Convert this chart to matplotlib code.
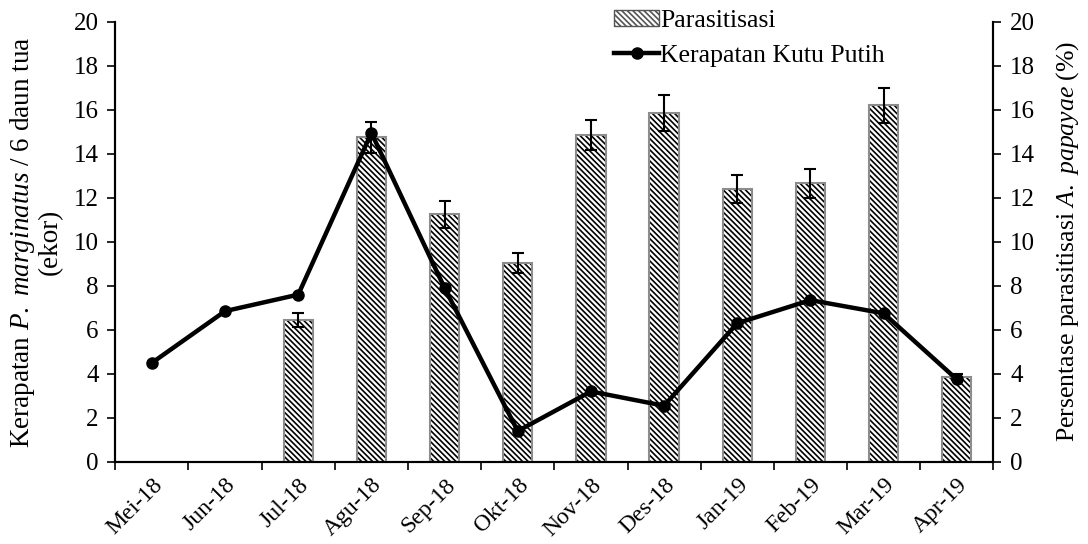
import matplotlib
matplotlib.use("Agg")
import matplotlib.pyplot as plt
from matplotlib.patches import Patch
from matplotlib.lines import Line2D
import numpy as np

plt.rcParams['font.family'] = ['Liberation Serif', 'DejaVu Serif']
plt.rcParams['mathtext.fontset'] = 'custom'
plt.rcParams['mathtext.rm'] = 'Liberation Serif'
plt.rcParams['mathtext.it'] = 'Liberation Serif:italic'
plt.rcParams['hatch.linewidth'] = 1.2

### Data
months = ["Mei-18", "Jun-18", "Jul-18", "Agu-18", "Sep-18", "Okt-18",
          "Nov-18", "Des-18", "Jan-19", "Feb-19", "Mar-19", "Apr-19"]
density = [4.5, 6.85, 7.6, 14.95, 7.9, 1.4, 3.2, 2.55, 6.3, 7.35, 6.75, 3.75]
parasit = [np.nan, np.nan, 6.45, 14.75, 11.25, 9.05, 14.85, 15.85, 12.4, 12.65, 16.2, 3.85]
parasit_err = [np.nan, np.nan, 0.3, 0.7, 0.6, 0.45, 0.7, 0.8, 0.65, 0.65, 0.8, 0.15]

### Style
tick_fs = 18
label_fs = 18.5
hatch = "\\" * 6

x = np.arange(len(months))

fig = plt.figure(figsize=(10.88, 5.44), dpi=100)
ax = fig.add_axes([0.106, 0.151, 0.807, 0.809])
ax2 = ax.twinx()

# bars on the right axis: black hatch, grey outline drawn on top
ax2.bar(x, parasit, width=0.4, color="white", edgecolor="black",
        linewidth=0, hatch=hatch, zorder=2)
ax2.bar(x, parasit, width=0.4, fill=False, edgecolor="#8c8c8c",
        linewidth=1.5, zorder=3)
ax2.errorbar(x, parasit, yerr=parasit_err, fmt="none", ecolor="black",
             elinewidth=1.5, capsize=4, capthick=1.5, zorder=4)

# density line on the left axis, kept above the bars
ax.set_zorder(ax2.get_zorder() + 1)
ax.patch.set_visible(False)
ax.plot(x, density, color="black", linewidth=3.2, marker="o",
        markersize=8, zorder=5)

for a in (ax, ax2):
    a.set_ylim(0, 20)
    a.set_yticks(np.arange(0, 21, 2))
    a.tick_params(axis="y", labelsize=tick_fs, direction="out", length=6,
                  width=1.2, pad=6)
    a.spines["top"].set_visible(False)
    for s in a.spines.values():
        s.set_linewidth(1.5)

ax.set_xlim(-0.5, len(months) - 0.5)
ax.set_xticks(np.arange(-0.5, len(months), 1.0))
ax.set_xticklabels([])
ax.set_xticks(x, minor=True)
ax.set_xticklabels(months, minor=True, rotation=45, ha="right",
                   rotation_mode="anchor", fontsize=17)
ax.tick_params(axis="x", which="major", direction="out", length=6, width=1.2)
ax.tick_params(axis="x", which="minor", length=0, pad=9)

ax.set_ylabel("Kerapatan $P.$ $marginatus$ / 6 daun tua\n(ekor)",
              fontsize=19.5, linespacing=1.05, labelpad=8)
ax2.set_ylabel("Persentase parasitisasi $A.$ $papayae$ (%)",
               fontsize=label_fs, labelpad=14)

# legend
handles = [Patch(facecolor="white", edgecolor="#555555", hatch=hatch),
           Line2D([], [], color="black", linewidth=3.2, marker="o", markersize=8)]
fig.legend(handles, ["Parasitisasi", "Kerapatan Kutu Putih"],
           loc="upper left", bbox_to_anchor=(0.548, 1.015), frameon=False,
           fontsize=label_fs, handlelength=1.75, handleheight=0.6,
           handletextpad=0.05, labelspacing=0.5, borderaxespad=0.3)

fig.savefig("out.png", dpi=100)
